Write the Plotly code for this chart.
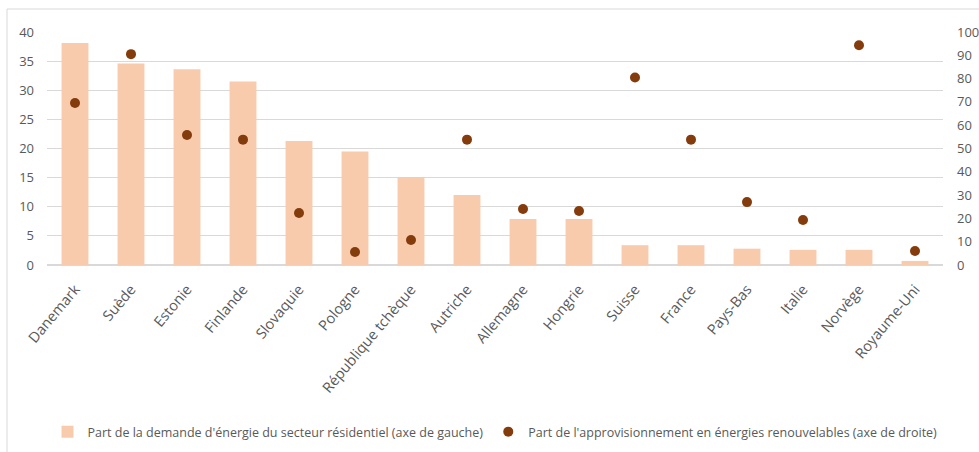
import plotly.graph_objects as go

categories = ["Danemark", "Suède", "Estonie", "Finlande", "Slovaquie", "Pologne",
              "République tchèque", "Autriche", "Allemagne", "Hongrie", "Suisse",
              "France", "Pays-Bas", "Italie", "Norvège", "Royaume-Uni"]
residential_share = [38.1, 34.6, 33.6, 31.5, 21.3, 19.5, 15.1, 12.0, 7.9, 7.9,
                     3.4, 3.4, 2.8, 2.6, 2.6, 0.7]
renewable_share = [69.5, 90.5, 55.8, 53.8, 22.3, 5.6, 10.7, 53.8, 24.0, 23.2,
                   80.5, 53.8, 27.0, 19.3, 94.3, 6.0]
left_ticks = [0, 5, 10, 15, 20, 25, 30, 35, 40]
right_ticks = [0, 10, 20, 30, 40, 50, 60, 70, 80, 90, 100]

name_bar = "Part de la demande d'énergie du secteur résidentiel (axe de gauche)"
name_dot = "Part de l'approvisionnement en énergies renouvelables (axe de droite)"

W, H = 979, 452
L, R, T, B = 47, 36, 32, 187
pw, ph = W - L - R, H - T - B

fig = go.Figure()
fig.add_trace(go.Bar(x=categories, y=residential_share, name=name_bar,
                     marker=dict(color="#F8CBAD", line=dict(width=0)), yaxis="y"))
fig.add_trace(go.Scatter(x=categories, y=renewable_share, name=name_dot, mode="markers",
                         marker=dict(color="#843C0C", size=10), yaxis="y2"))

font = dict(family="Open Sans, sans-serif", size=13, color="#595959")

fig.update_layout(
    width=W, height=H,
    margin=dict(l=L, r=R, t=T, b=B, pad=0, autoexpand=False),
    paper_bgcolor="white", plot_bgcolor="white",
    font=font,
    bargap=0.52,
    showlegend=True,
    legend=dict(orientation="h", x=0.5, xanchor="center",
                y=(H - B - 432) / ph, yanchor="middle",
                font=dict(family="Open Sans, sans-serif", size=12.5, color="#595959"),
                itemwidth=30, tracegroupgap=0),
    xaxis=dict(range=[-0.5, len(categories) - 0.5], tickangle=-50, showgrid=False,
               showline=False, ticks="", automargin=False,
               tickfont=dict(size=14.5, color="#595959"), ticklabelstandoff=12),
    yaxis=dict(range=[0, 40], tickvals=left_ticks, showgrid=True, gridcolor="#D9D9D9",
               gridwidth=1, zeroline=True, zerolinecolor="#D9D9D9", showline=False,
               ticks="", ticklabelstandoff=12, automargin=False),
    yaxis2=dict(range=[0, 100], tickvals=right_ticks, overlaying="y", side="right",
                showgrid=False, zeroline=False, showline=False, ticks="",
                ticklabelstandoff=13, automargin=False),
)

fig.add_shape(type="rect", xref="paper", yref="paper",
              x0=(7 - L) / pw, x1=(W + 10 - L) / pw,
              y0=(H - B - (H + 10)) / ph, y1=(H - B - 9) / ph,
              line=dict(color="#D9D9D9", width=1), fillcolor="rgba(0,0,0,0)", layer="below")

fig.write_html("out.html")
